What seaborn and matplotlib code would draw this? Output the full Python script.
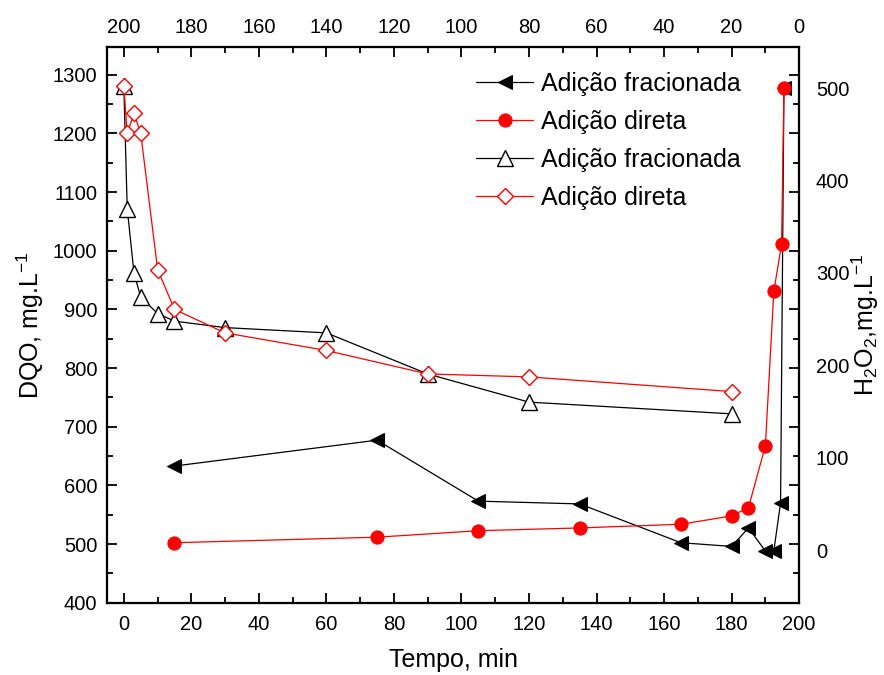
import matplotlib
matplotlib.use("Agg")
import matplotlib.pyplot as plt
from matplotlib.ticker import MultipleLocator
import seaborn as sns

# DQO vs tempo (eixo inferior / esquerdo)
tempo_dqo = [0, 1, 3, 5, 10, 15, 30, 60, 90, 120, 180]
dqo_fracionada = [1280, 1072, 962, 921, 893, 880, 869, 860, 790, 742, 722]
dqo_direta = [1280, 1200, 1234, 1200, 968, 900, 860, 830, 790, 785, 760]

# H2O2 vs tempo (eixo superior invertido / direito)
tempo_h2o2_frac = [185, 125, 95, 65, 35, 20, 15, 10, 7.5, 5.5, 4.5]
h2o2_fracionada = [91, 119, 53, 50, 8, 4, 24, -1, -1, 51, 500]
tempo_h2o2_dir = [185, 125, 95, 65, 35, 20, 15, 10, 7.5, 5.2, 4.5]
h2o2_direta = [8, 14, 21, 24, 28, 37, 46, 113, 280, 331, 500]

sns.set_style("ticks")
plt.rcParams["font.family"] = ["Liberation Sans", "DejaVu Sans"]
plt.rcParams["mathtext.default"] = "regular"
for k in ("text.color", "axes.labelcolor", "xtick.color", "ytick.color"):
    plt.rcParams[k] = "black"

fig = plt.figure(figsize=(8.84, 6.75), dpi=100)
ax = fig.add_axes([0.121, 0.107, 0.783, 0.824])
ax2 = ax.twinx()
ax3 = ax2.twiny()

# hollow series - DQO
sns.lineplot(x=tempo_dqo, y=dqo_fracionada, ax=ax, color="black", lw=0.9,
             marker="^", ms=11, mfc="white", mec="black", mew=1.0,
             label="Adição fracionada")
sns.lineplot(x=tempo_dqo, y=dqo_direta, ax=ax, color="red", lw=0.9,
             marker="D", ms=8, mfc="white", mec="red", mew=1.0,
             label="Adição direta")

# filled series - H2O2
sns.lineplot(x=tempo_h2o2_frac, y=h2o2_fracionada, ax=ax3, color="black", lw=0.9,
             marker="<", ms=10, mfc="black", mec="black",
             label="Adição fracionada")
sns.lineplot(x=tempo_h2o2_dir, y=h2o2_direta, ax=ax3, color="red", lw=0.9,
             marker="o", ms=9.5, mfc="red", mec="red",
             label="Adição direta")

for a in (ax, ax3):
    if a.get_legend() is not None:
        a.get_legend().remove()

ax.set_xlim(-5, 200)
ax.set_ylim(400, 1348)
ax3.set_xlim(205, 0)
ax2.set_ylim(-57, 545)

ax.xaxis.set_major_locator(MultipleLocator(20))
ax.xaxis.set_minor_locator(MultipleLocator(10))
ax.yaxis.set_major_locator(MultipleLocator(100))
ax.yaxis.set_minor_locator(MultipleLocator(50))
ax3.xaxis.set_major_locator(MultipleLocator(20))
ax3.xaxis.set_minor_locator(MultipleLocator(10))
ax2.yaxis.set_major_locator(MultipleLocator(100))

ax.tick_params(which="both", direction="in", top=False, right=True,
               labelsize=14.5, width=1.3, pad=7, colors="black")
ax.tick_params(which="major", length=7)
ax.tick_params(which="minor", length=4)
ax.tick_params(axis="x", pad=9)
ax3.tick_params(which="both", direction="in", labelsize=14.5, width=1.3, pad=7,
                colors="black")
ax3.tick_params(which="major", length=7)
ax3.tick_params(which="minor", length=4)
ax2.tick_params(axis="y", length=0, labelsize=14.5, pad=12, colors="black")

ax.set_xlabel("Tempo, min", fontsize=18, labelpad=10)
ax.set_ylabel("DQO, mg.L$^{-1}$", fontsize=18, labelpad=5)
ax2.set_ylabel("H$_2$O$_2$,mg.L$^{-1}$", fontsize=18, labelpad=0)
ax3.set_xlabel("")

for a in (ax, ax2, ax3):
    for s in a.spines.values():
        s.set_linewidth(1.5)
        s.set_color("black")

h3, l3 = ax3.get_legend_handles_labels()
h1, l1 = ax.get_legend_handles_labels()
ax3.legend(h3 + h1, l3 + l1, loc="upper right", bbox_to_anchor=(0.93, 0.972),
           frameon=False, fontsize=18, handlelength=2.3, handletextpad=0.3,
           labelspacing=0.56, borderaxespad=0)

fig.savefig("out.png", dpi=100)
